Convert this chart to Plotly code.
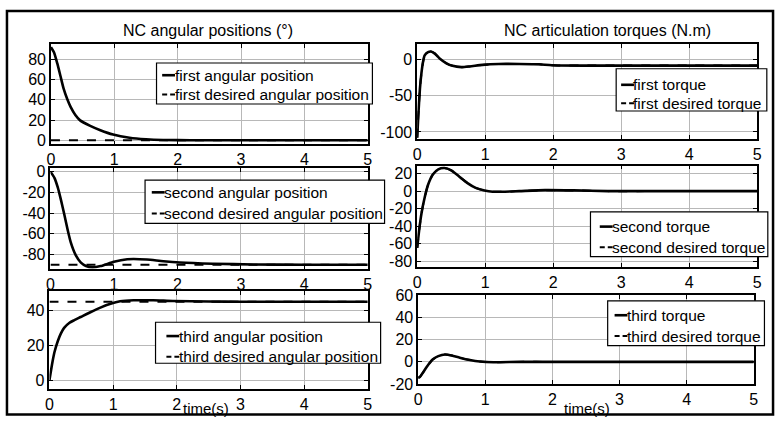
import plotly.graph_objects as go

# ---------------- data ----------------
t_q1 = [0, 0.047, 0.1, 0.15, 0.2, 0.255, 0.31, 0.385, 0.46, 0.62, 0.78, 0.98, 1.24, 1.5, 1.77, 2.2, 3, 4, 5]
q1 = [92, 87, 76, 63.5, 51, 41, 33, 25, 19.7, 14.3, 10, 5.7, 2.5, 1, 0.3, 0.1, 0, 0, 0]
t_q1d = [0, 5]
q1d = [0, 0]

t_q2 = [0, 0.0625, 0.115, 0.167, 0.22, 0.27, 0.32, 0.4, 0.48, 0.56, 0.66, 0.79, 1.0, 1.21, 1.31, 1.52, 1.78, 2.04, 2.56, 3.2, 4, 5]
q2 = [0, -6, -15.3, -27.8, -42, -56, -68.4, -81, -88, -91.3, -92.5, -91.3, -87.2, -84.7, -84.4, -85, -86.6, -87.8, -89, -89.8, -90, -90]
t_q2d = [0, 5]
q2d = [-90, -90]

t_q3 = [0, 0.026, 0.052, 0.078, 0.13, 0.18, 0.23, 0.31, 0.39, 0.49, 0.65, 0.8, 0.96, 1.11, 1.32, 1.63, 1.94, 2.5, 3, 4, 5]
q3 = [0, 6, 11.4, 16, 22.3, 26.8, 30, 32.8, 34.4, 36.2, 39.1, 41.6, 43.8, 45.2, 45.8, 45.8, 45.4, 45.1, 45, 45, 45]
t_q3d = [0, 5]
q3d = [45, 45]

t_tau1 = [0, 0.015, 0.04, 0.063, 0.087, 0.11, 0.16, 0.2, 0.26, 0.33, 0.43, 0.52, 0.65, 0.77, 0.96, 1.2, 1.5, 1.79, 1.98, 2.5, 3, 4, 5]
tau1 = [-108, -80, -40.5, -18.5, -3, 5.7, 10.1, 11, 8, 1.3, -5.3, -8.8, -10.6, -9.7, -7.5, -6.2, -6.2, -6.6, -8, -8.5, -8.5, -8.5, -8.5]
tau1d = [-108, -80, -40.5, -18.5, -3, 5.7, 10.1, 11, 8, 1.3, -5.3, -8.8, -10.6, -9.7, -7.5, -6.2, -6.2, -6.6, -8, -8.5, -8.5, -8.5, -8.5]

t_tau2 = [0, 0.03, 0.063, 0.11, 0.16, 0.23, 0.31, 0.4, 0.5, 0.62, 0.74, 0.86, 0.99, 1.11, 1.25, 1.5, 1.88, 2.3, 2.8, 3.5, 5]
tau2 = [-65, -44, -25.6, -7.3, 7.3, 19, 24.9, 26.4, 23.8, 16.5, 9.2, 3.7, 0.7, -0.7, -0.7, 0, 1.1, 0.8, 0, 0, 0]
tau2d = [-65, -44, -25.6, -7.3, 7.3, 19, 24.9, 26.4, 23.8, 16.5, 9.2, 3.7, 0.7, -0.7, -0.7, 0, 1.1, 0.8, 0, 0, 0]

t_tau3 = [0, 0.025, 0.075, 0.15, 0.22, 0.3, 0.4, 0.5, 0.62, 0.77, 0.92, 1.12, 1.5, 2, 3, 4, 5]
tau3 = [-14.2, -13.6, -9.3, -2.6, 2.3, 5.2, 6.7, 5.8, 3.8, 1.7, 0.3, -0.3, 0, 0, 0, 0, 0]
tau3d = [-14.2, -13.6, -9.3, -2.6, 2.3, 5.2, 6.7, 5.8, 3.8, 1.7, 0.3, -0.3, 0, 0, 0, 0, 0]

x_ticks = [0, 1, 2, 3, 4, 5]
y_ticks = [
    [0, 20, 40, 60, 80],
    [-80, -60, -40, -20, 0],
    [0, 20, 40],
    [-100, -50, 0],
    [-80, -60, -40, -20, 0, 20],
    [-20, 0, 20, 40, 60],
]
y_ranges = [[-4, 95], [-94, 3.5], [-5, 51], [-110, 21], [-87, 29], [-20, 60]]

series = [
    (t_q1, q1, t_q1d, q1d, "first angular position", "first desired angular position"),
    (t_q2, q2, t_q2d, q2d, "second angular position", "second desired angular position"),
    (t_q3, q3, t_q3d, q3d, "third angular position", "third desired angular position"),
    (t_tau1, tau1, t_tau1, tau1d, "first torque", "first desired torque"),
    (t_tau2, tau2, t_tau2, tau2d, "second torque", "second desired torque"),
    (t_tau3, tau3, t_tau3, tau3d, "third torque", "third desired torque"),
]

# ---------------- layout geometry (pixels) ----------------
W, H = 782, 426
boxes = [  # x0, x1, ytop, ybottom
    (47.5, 368, 37.7, 142),
    (47, 368, 166.7, 271.7),
    (46, 368, 295, 396.7),
    (418, 762, 37.7, 136.7),
    (418, 762, 164.3, 270),
    (419, 758.5, 299.3, 391.7),
]
# legend boxes: left, top, right, bottom, text-left, row1 y, row2 y
legend_geo = [
    (154.3, 57.3, 372.7, 100, 174, 70, 90),
    (142.7, 179.3, 385, 224.3, 163.5, 192, 214),
    (153.3, 327.3, 381, 370, 178.3, 341.7, 363.3),
    (619.3, 63.3, 771.7, 107.3, 638.3, 80, 99.3),
    (593.3, 212.3, 772.7, 259, 616.7, 227.7, 249.3),
    (610.7, 305, 769.3, 351.7, 631.7, 320, 341.7),
]

FONT = "Liberation Sans, Arial, sans-serif"
LEG_SIZE = 15.5
fig = go.Figure()
layout = dict(
    width=W, height=H,
    margin=dict(l=0, r=0, t=0, b=0),
    paper_bgcolor="white", plot_bgcolor="white",
    font=dict(family=FONT, size=16, color="black"),
    showlegend=False,
)


def px(x):
    return x / W


def py(y):
    return 1 - y / H


def lbl(v):
    return str(v).replace("\u2212", "-")


for i, (tx, y, txd, yd, name, named) in enumerate(series):
    k = i + 1
    sfx = "" if k == 1 else str(k)
    fig.add_trace(go.Scatter(x=tx, y=y, mode="lines", name=name,
                             line=dict(color="black", width=2.6, shape="spline", smoothing=0.6),
                             xaxis="x" + sfx, yaxis="y" + sfx))
    fig.add_trace(go.Scatter(x=txd, y=yd, mode="lines", name=named,
                             line=dict(color="black", width=2, dash="dash",
                                       shape="spline", smoothing=0.6),
                             xaxis="x" + sfx, yaxis="y" + sfx))
    x0, x1, yt, yb = boxes[i]
    common = dict(showline=True, linecolor="black", linewidth=1.5, mirror="ticks",
                  ticks="inside", ticklen=4, tickcolor="black", tickwidth=1,
                  showgrid=True, gridcolor="#b8b8b8", gridwidth=1, zeroline=False,
                  tickfont=dict(family=FONT, size=16, color="black"))
    layout["xaxis" + sfx] = dict(domain=[px(x0), px(x1)], anchor="y" + sfx,
                                 range=[0, 5], tickvals=x_ticks,
                                 ticktext=[lbl(v) for v in x_ticks], **common)
    layout["yaxis" + sfx] = dict(domain=[py(yb), py(yt)], anchor="x" + sfx,
                                 range=y_ranges[i], tickvals=y_ticks[i],
                                 ticktext=[lbl(v) for v in y_ticks[i]], **common)

fig.update_layout(**layout)

# legends (drawn as boxes with sample lines and text)
for i, (tx, y, txd, yd, name, named) in enumerate(series):
    l, t, r, b, tx0, r1, r2 = legend_geo[i]
    fig.add_shape(type="rect", xref="paper", yref="paper",
                  x0=px(l), x1=px(r), y0=py(b), y1=py(t),
                  line=dict(color="black", width=1.2), fillcolor="white", layer="above")
    fig.add_shape(type="line", xref="paper", yref="paper",
                  x0=px(tx0 - 14), x1=px(tx0 - 1), y0=py(r1), y1=py(r1),
                  line=dict(color="black", width=2.6), layer="above")
    fig.add_shape(type="line", xref="paper", yref="paper",
                  x0=px(tx0 - 14), x1=px(tx0 - 1), y0=py(r2), y1=py(r2),
                  line=dict(color="black", width=2, dash="5px,3px"), layer="above")
    for text, ry in ((name, r1), (named, r2)):
        fig.add_annotation(xref="paper", yref="paper", x=px(tx0 - 2.5), y=py(ry),
                           text=text, showarrow=False, xanchor="left", yanchor="middle",
                           borderpad=0, font=dict(family=FONT, size=LEG_SIZE, color="black"))

annotations = [
    dict(text="NC angular positions (°)", x=206 / W, y=1 - 23 / H, size=16),
    dict(text="NC articulation torques (N.m)", x=611 / W, y=1 - 23 / H, size=16),
    dict(text="time(s)", x=204 / W, y=1 - 417 / H, size=15),
    dict(text="time(s)", x=590 / W, y=1 - 417 / H, size=15),
]
for a in annotations:
    size = a.pop("size")
    fig.add_annotation(xref="paper", yref="paper", showarrow=False,
                       xanchor="center", yanchor="middle", borderpad=0,
                       font=dict(family=FONT, size=size, color="black"), **a)

fig.add_shape(type="rect", xref="paper", yref="paper",
              x0=3 / W, x1=778 / W, y0=1 - 423.5 / H, y1=1 - 3 / H,
              line=dict(color="black", width=2.5), fillcolor="rgba(0,0,0,0)")

POST = (
    "var gd=document.getElementById('{plot_id}');"
    "var de=document.documentElement;de.style.margin='0';de.style.padding='0';de.style.overflow='hidden';"
    "document.body.style.margin='0';document.body.style.padding='0';document.body.style.overflow='hidden';"
    "gd.style.position='fixed';gd.style.left='0px';gd.style.top='0px';"
)
fig.write_html("out.html", config={"displayModeBar": False}, post_script=POST)
